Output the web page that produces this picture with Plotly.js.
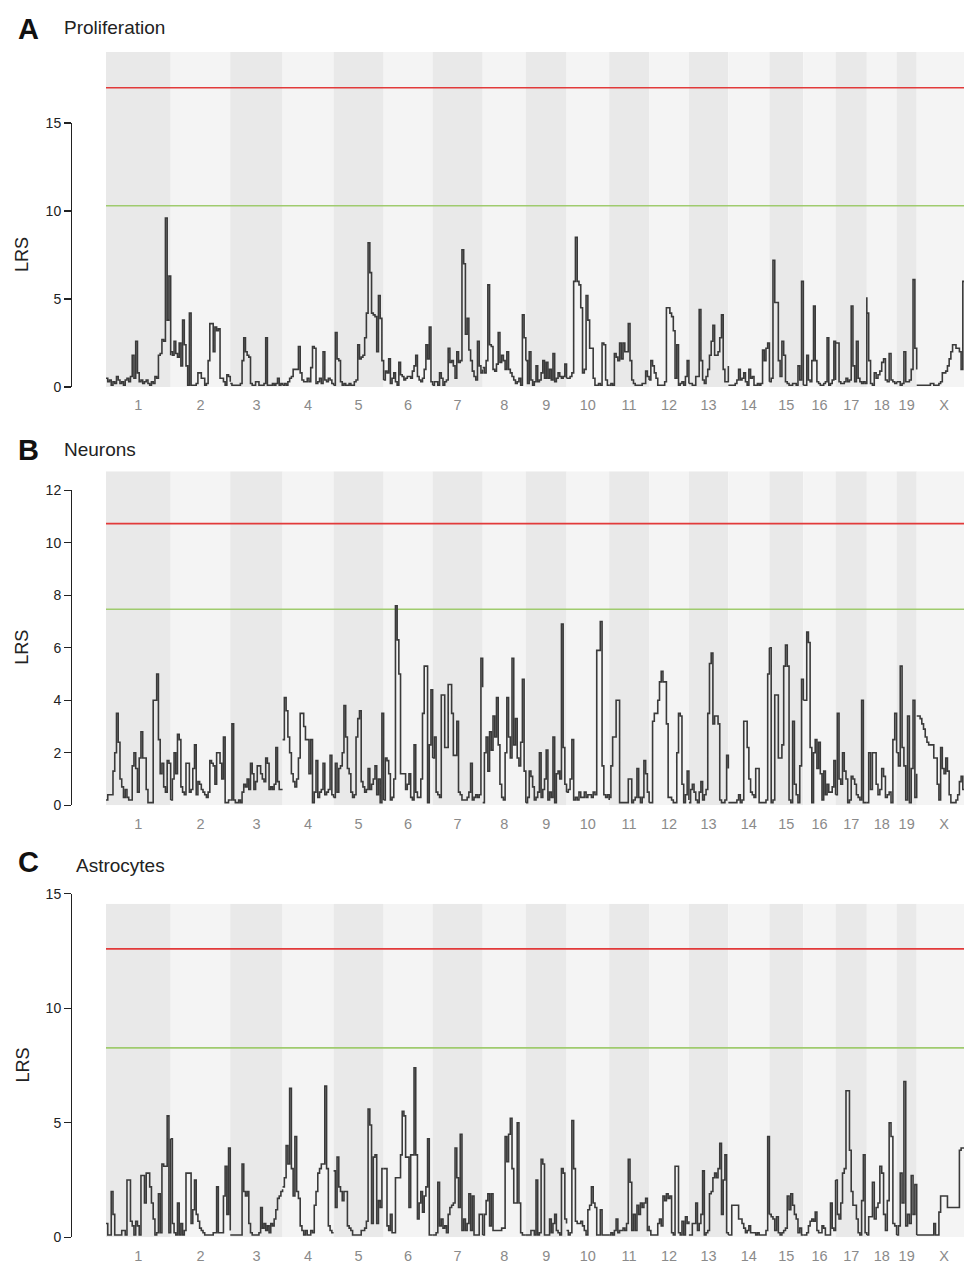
<!DOCTYPE html>
<html><head><meta charset="utf-8">
<script src="https://cdn.plot.ly/plotly-3.0.1.min.js"></script>
<style>html,body{margin:0;padding:0;background:#fff}#chart{width:964px;height:1263px}</style>
</head><body><div id="chart"></div>
<script>
// ---------------- DATA ----------------
const chromNames = ['1','2','3','4','5','6','7','8','9','10','11','12','13','14','15','16','17','18','19','X'];
const chromLengthsMb = [197.2,181.7,159.6,155.6,152.5,149.5,152.5,131.7,124.1,130.0,121.8,121.3,120.3,125.2,103.5,98.3,95.3,90.8,61.3,166.7];

const lrsProliferation = [
 [0.5,0.3,0.4,0.1,0.3,0.2,0.6,0.4,0.2,0.3,0.1,0.4,0.5,0.3,0.6,1.8,0.5,2.6,0.8,0.3,0.4,0.2,0.3,0.4,0.2,0.1,0.3,0.2,0.6,0.5,1.8,1.9,2.7,2.6,9.6,3.8,6.3,1.8],
 [2.0,1.8,2.6,1.9,1.7,2.5,1.2,3.8,2.4,1.2,0.1,4.2,0.1,0.1,0.1,0.2,0.8,0.8,0.5,0.5,0.1,0.2,1.5,3.6,3.6,2.0,3.4,3.2,3.3,0.5,0.5,0.3,0.1,0.7,0.6,0.3],
 [0.2,0.1,0.1,0.1,0.1,0.1,0.2,1.5,2.8,2.0,1.8,1.7,0.2,0.1,0.1,0.3,0.3,0.1,0.1,0.1,0.2,2.8,0.1,0.1,0.1,0.2,0.1,0.2,0.5,0.1,0.2,0.1],
 [0.1,0.2,0.1,0.3,0.5,0.6,1.0,1.0,1.0,2.3,0.8,0.4,0.3,0.3,0.5,0.3,1.1,2.3,2.2,0.2,0.3,0.5,0.2,2.0,0.4,0.3,0.5,0.4,0.2,0.1],
 [0.1,3.1,1.6,1.5,0.3,0.1,0.2,0.1,0.1,0.2,0.1,0.1,0.3,0.4,2.4,1.6,1.7,1.8,2.8,4.2,8.2,6.5,4.2,4.1,4.0,2.0,5.2,3.9,1.5,0.4],
 [0.4,0.9,0.8,1.6,0.2,0.5,0.8,0.3,0.1,1.4,0.7,0.6,0.4,0.5,0.6,0.6,0.5,0.9,1.2,1.8,0.6,0.4,0.3,0.5,1.0,2.4,1.6,3.4,0.3,0.1],
 [0.1,0.3,0.3,0.1,0.8,0.5,0.1,0.3,0.4,2.2,1.4,1.5,1.2,0.5,2.0,1.4,1.5,7.8,7.0,3.0,3.9,2.1,1.5,0.9,0.6,0.4,2.6,1.2,0.8,1.0],
 [1.1,0.8,1.5,5.8,2.4,2.3,1.0,0.9,1.3,3.1,1.4,1.8,1.5,1.0,2.0,1.0,0.8,0.6,0.4,0.2,0.3,0.5,0.1,4.1,2.8,1.5],
 [1.5,0.2,2.0,0.4,0.1,0.3,1.2,0.3,0.4,0.8,1.5,0.5,1.4,0.5,1.0,0.4,1.9,0.3,0.5,0.8,0.6,0.5,0.6,1.3,0.5],
 [0.5,0.5,0.6,0.8,6.0,8.5,6.0,5.8,4.5,0.8,1.0,5.2,3.8,2.2,2.2,0.5,0.1,0.1,0.2,0.1,2.5,2.4,0.4,0.1,0.1],
 [0.1,0.2,0.1,1.9,1.7,1.5,2.5,1.6,2.5,2.0,2.0,3.6,1.5,0.4,0.2,0.1,0.1,0.1,0.1,0.2,0.2,0.9,0.6,0.4],
 [0.4,1.5,1.2,0.8,0.5,0.1,0.1,0.1,0.1,0.3,4.5,4.5,4.2,4.0,3.2,0.5,2.4,0.1,0.2,0.3,0.1,0.6,1.5,0.2],
 [0.2,0.2,0.1,0.1,0.6,0.6,4.4,1.5,0.4,0.2,0.6,1.0,1.8,2.6,3.5,1.8,1.8,2.0,2.8,4.1,1.0,0.3,0.3,1.2],
 [0.1,0.1,0.1,0.1,0.2,0.4,1.0,0.4,0.5,0.8,0.3,0.1,1.0,0.5,0.6,0.1,0.1,0.2,0.1,0.2,2.1,1.5,2.2,2.5,0.3],
 [0.3,0.5,7.2,4.8,4.8,1.5,0.6,2.6,1.8,0.3,0.2,0.1,0.1,0.2,0.2,0.1,1.2,0.4,6.0,0.1],
 [0.1,0.1,1.8,0.4,0.3,1.5,4.6,1.5,0.3,0.2,0.1,0.1,0.2,0.3,2.8,0.1,0.2,0.4,2.6,0.4],
 [2.5,2.5,0.3,0.2,0.2,0.3,0.5,0.3,0.4,4.6,1.2,0.3,2.6,0.5,0.3,0.2,0.3,0.2,5.1],
 [4.2,1.5,0.2,0.1,0.8,0.5,0.7,0.9,1.4,1.6,0.4,0.3,1.9,0.4,0.3,0.2,0.3],
 [0.3,0.3,0.1,0.2,2.0,0.3,0.3,0.4,1.0,6.1,2.2,1.0],
 [0.1,0.1,0.1,0.1,0.1,0.1,0.1,0.1,0.2,0.2,0.1,0.1,0.1,0.2,0.3,0.8,0.8,0.9,1.2,1.6,2.0,2.4,2.4,2.2,2.2,2.0,1.0,6.0,6.0,6.0,6.0,6.0,6.0]
];

const lrsNeurons = [
 [0.2,0.4,0.4,0.4,1.3,2.0,3.5,2.4,1.0,0.7,0.3,0.6,0.3,0.2,0.2,1.5,2.0,1.4,0.5,1.8,2.8,1.8,1.8,0.6,0.1,0.1,0.1,4.0,4.0,5.0,2.5,1.2,1.6,0.7,0.5,1.7,1.6,0.2],
 [0.2,1.0,2.0,1.2,2.7,2.5,0.7,0.5,0.4,1.6,1.6,0.5,0.6,1.4,2.3,0.4,0.9,0.8,0.6,0.5,0.4,0.3,0.5,1.7,1.6,1.5,0.8,2.0,2.0,1.6,1.0,2.6,0.1,0.1,0.2,0.2],
 [0.2,3.1,0.2,0.1,0.1,0.2,0.1,0.5,0.8,0.7,1.0,0.6,1.6,1.2,0.6,0.9,1.5,1.5,1.2,1.0,0.9,1.8,1.6,0.6,0.7,0.6,0.8,2.2,0.9,0.6,0.6,0.6],
 [2.5,4.1,3.6,2.6,2.0,1.2,0.9,0.7,1.0,1.8,3.5,3.5,3.0,2.5,2.5,1.2,2.5,0.1,0.5,1.7,0.3,0.5,0.6,1.6,0.4,0.5,0.6,1.9,0.4,0.3],
 [0.3,1.6,0.5,1.4,1.5,2.0,3.8,2.6,1.4,1.2,0.5,0.3,0.4,2.6,3.3,3.6,0.9,0.7,0.5,0.6,1.4,0.6,0.8,1.0,1.5,0.4,1.0,0.1,3.5,0.2],
 [0.2,1.8,1.7,1.2,0.2,0.3,1.0,7.6,6.3,5.0,1.2,1.2,1.2,0.6,0.8,1.2,0.3,0.2,2.3,0.5,0.3,0.3,1.0,3.5,5.3,5.3,0.1,2.3,4.4,1.8],
 [1.8,2.6,0.5,0.4,0.3,4.2,4.2,2.2,2.2,4.6,4.6,3.5,1.9,1.9,3.2,0.5,0.4,0.2,0.2,0.2,0.3,0.5,1.6,0.2,0.3,0.4,0.3,0.4,5.6,4.5],
 [0.1,2.0,2.6,1.3,2.8,2.1,3.4,2.6,4.1,2.3,0.8,0.3,0.2,2.0,4.1,2.6,1.8,5.6,2.3,3.3,1.8,1.5,2.4,4.8,1.3,0.1],
 [0.1,0.3,1.3,1.1,0.7,0.2,0.3,0.5,2.0,0.3,0.6,1.0,2.1,0.2,0.5,0.3,2.6,0.1,1.2,1.3,1.0,6.9,2.2,0.8,0.5],
 [0.5,0.6,1.0,2.5,0.2,0.3,0.2,0.5,0.3,0.3,0.5,0.3,0.4,0.4,0.3,0.5,0.4,5.9,5.9,7.0,1.5,0.4,0.3,0.4,0.2],
 [0.3,1.5,2.6,2.6,4.0,4.0,0.1,0.1,0.1,0.1,0.1,1.0,1.0,0.1,0.2,0.3,1.4,0.3,0.1,0.3,1.7,1.2,0.5,0.1],
 [0.1,0.1,3.2,3.5,3.5,4.0,4.7,5.1,4.7,4.7,3.1,0.3,0.3,0.2,0.1,0.1,2.0,3.5,3.4,0.8,0.1,0.4,1.3,0.2],
 [0.1,0.6,0.8,0.5,0.2,0.1,0.5,0.9,0.2,0.4,0.6,3.5,5.4,5.8,3.1,3.4,3.4,3.1,0.2,0.1,0.1,0.2,1.9,1.4],
 [0.1,0.1,0.1,0.1,0.1,0.2,0.4,0.1,0.2,3.2,3.2,2.2,1.0,0.5,0.4,0.3,1.4,1.4,0.1,0.1,0.1,0.1,0.2,5.0,6.0],
 [6.0,0.1,0.2,4.2,4.2,1.8,1.8,2.3,5.3,6.1,5.3,0.2,0.1,3.2,0.8,0.4,0.1,1.5,4.8,4.0],
 [4.0,4.0,6.6,6.2,2.2,0.1,2.0,2.5,1.4,2.4,1.2,0.2,1.3,0.4,0.8,0.5,0.5,0.7,1.7,0.4],
 [0.4,3.5,1.0,0.8,2.0,1.3,1.0,0.1,0.2,1.1,1.0,0.8,0.4,0.3,0.2,4.0,0.1,0.1,0.1],
 [0.1,2.0,0.6,2.0,2.0,0.8,0.4,0.6,1.4,1.1,0.3,0.4,0.5,0.1,2.5,3.5,2.0],
 [2.0,1.5,5.3,2.2,1.5,0.2,3.4,0.1,1.4,4.0,0.3,1.2],
 [3.4,3.4,3.3,3.1,2.9,2.6,2.4,2.3,2.3,2.3,1.8,1.8,0.8,0.2,2.2,1.4,1.2,1.8,1.3,0.4,0.1,0.1,0.1,0.2,0.4,0.9,1.1,0.6,0.6,0.6,0.6,0.6,0.6]
];

const lrsAstrocytes = [
 [0.6,0.1,0.1,2.0,1.0,0.1,0.1,0.1,0.1,0.3,0.3,0.1,2.5,2.5,0.7,0.5,0.1,0.7,0.5,0.1,2.7,2.7,1.5,2.8,2.8,2.2,1.5,0.8,0.1,0.2,1.9,0.2,3.2,3.1,3.1,5.3,0.2,4.3],
 [4.3,0.6,0.2,0.1,1.5,0.1,0.6,0.1,0.3,2.8,2.8,2.8,0.6,1.2,2.5,1.0,0.7,0.4,0.3,0.2,0.1,0.1,0.1,0.1,0.1,0.2,0.2,2.2,0.2,0.2,0.2,1.8,3.1,1.0,3.9,0.3],
 [0.1,0.1,0.1,0.1,0.1,0.1,0.1,3.2,2.0,1.8,2.0,0.6,0.2,0.1,0.1,0.1,0.1,0.2,1.3,0.4,0.6,0.3,0.5,0.2,0.6,0.5,0.8,1.2,1.7,1.8,2.0,2.1],
 [2.2,2.6,4.0,3.2,6.5,3.0,1.8,4.4,2.0,1.7,0.5,0.3,0.1,0.3,0.1,0.1,0.3,0.2,1.4,2.0,2.8,3.0,3.2,3.2,6.6,3.0,0.5,0.3,0.2,0.2],
 [2.9,1.3,3.5,2.2,2.0,1.6,2.0,2.0,0.5,0.4,0.3,0.1,0.1,0.1,0.1,0.1,0.3,0.3,0.4,0.7,5.6,4.9,0.6,3.5,3.6,0.6,1.6,1.3,3.0,3.0],
 [3.0,3.0,0.5,0.3,1.0,0.2,0.2,2.6,2.6,2.6,3.6,5.5,5.3,3.5,3.5,1.3,3.6,3.6,7.4,3.6,0.8,1.5,2.0,1.1,1.8,2.2,4.3,0.1,0.1,0.1],
 [0.1,0.1,0.2,2.4,0.5,0.8,0.4,0.5,0.2,1.0,1.3,1.4,1.5,3.9,2.6,1.3,4.5,0.3,0.8,0.3,0.6,1.9,0.3,1.8,0.1,0.1,0.1,1.0,1.0,0.1],
 [0.1,1.0,1.6,1.9,0.5,1.9,0.3,0.3,0.3,0.3,0.3,0.4,0.4,4.4,3.3,4.5,5.2,3.0,1.5,1.5,5.0,1.5,0.2,0.1,0.1,0.1],
 [0.1,0.1,0.1,0.3,0.3,0.1,2.5,0.1,0.2,3.4,3.2,0.1,0.1,0.1,0.8,0.2,0.6,1.0,0.3,0.2,0.1,3.0,2.8,0.8,0.6],
 [0.3,0.1,0.2,5.1,3.0,0.7,0.6,0.6,0.7,0.5,0.3,0.1,1.2,1.4,2.2,1.5,1.3,0.1,0.1,1.2,0.1,0.1,0.1,0.1,0.1],
 [0.1,0.2,0.1,0.3,0.8,0.2,0.3,0.3,0.4,0.3,0.6,3.4,2.4,0.3,1.0,0.3,1.4,1.0,1.5,1.3,1.5,1.7,0.3,0.5],
 [0.3,0.1,0.1,0.1,0.1,0.6,0.8,0.5,1.8,1.6,1.9,1.7,1.8,0.2,0.1,3.1,3.1,0.2,0.1,0.7,0.1,0.9,0.6,0.7],
 [0.1,0.1,0.6,0.6,1.5,0.3,0.6,1.0,2.9,0.1,0.2,0.3,1.9,2.0,2.6,2.8,2.6,3.0,4.1,1.0,2.5,3.6,0.2,0.1],
 [0.1,0.1,1.4,1.4,1.4,1.4,0.8,0.8,0.6,0.4,0.2,0.3,0.5,0.2,0.2,0.2,0.1,0.2,0.1,0.1,0.1,0.1,0.3,4.4,1.0],
 [1.0,0.9,0.8,0.3,0.9,0.2,0.1,0.2,0.3,0.4,1.8,1.2,1.9,1.4,1.0,0.8,0.2,0.4,0.1,0.1],
 [0.1,0.1,0.2,0.5,0.7,0.8,0.7,1.1,0.3,0.2,0.2,0.5,0.4,0.1,0.1,0.1,1.5,0.4,0.3,2.5],
 [2.5,1.0,0.8,1.5,2.8,3.0,6.4,6.4,3.8,2.0,1.4,1.4,0.8,0.2,0.1,1.6,3.6,0.2,0.1],
 [0.1,0.9,0.9,2.4,0.8,1.3,1.5,3.1,2.8,1.0,0.3,1.6,5.0,4.4,0.6,0.5,0.1],
 [0.1,0.5,2.8,1.5,6.8,0.5,1.0,0.6,2.7,1.0,2.3,0.1],
 [0.1,0.1,0.1,0.1,0.1,0.1,0.1,0.1,0.1,0.1,0.6,0.1,0.1,1.1,1.8,1.8,1.8,1.8,1.3,1.3,1.3,1.3,1.3,1.3,1.3,3.8,3.9,3.9,3.9,3.9,3.9,3.9,3.9]
];

const panelLetters = ['A','B','C'];
const panelTitles = ['Proliferation','Neurons','Astrocytes'];
const significantLRS = [17.0, 10.73, 12.59];
const suggestiveLRS = [10.3, 7.47, 8.27];
const yTickValues = [[0,5,10,15],[0,2,4,6,8,10,12],[0,5,10,15]];

// ---------------- LAYOUT GEOMETRY (pixels) ----------------
const W = 964, H = 1263;
const axisLineX = 71, plotLeftX = 106, chr19EndX = 916.7;
const geo = [
  {zero:387.0,  bgTop:52.0,  tickTop:123.0, letterY:29,  titleX:63, titleY:27.4, lrsY:255},
  {zero:805.3,  bgTop:471.3, tickTop:490.3, letterY:450, titleX:63, titleY:449.4, lrsY:647.8},
  {zero:1237.3, bgTop:903.7, tickTop:893.7, letterY:862, titleX:75, titleY:865, lrsY:1065.5}
];
const series = [lrsProliferation, lrsNeurons, lrsAstrocytes];

const plotW = W - axisLineX;
const px2px = x => (x - axisLineX) / plotW;   // page x -> paper x
const py2py = y => 1 - y / H;                 // page y -> paper y

const starts = [];
let acc = 0;
chromLengthsMb.forEach(l => { starts.push(acc); acc += l; });
const sum19 = starts[19];
const xEnd = sum19 * (W - plotLeftX) / (chr19EndX - plotLeftX);
const mids = chromLengthsMb.map((l, i) => starts[i] + l / 2);

const FONT = 'Liberation Sans, Arial, Helvetica, sans-serif';
const traces = [], shapes = [], annotations = [];
const layout = {
  width: W, height: H,
  margin: {l: axisLineX, r: 0, t: 0, b: 0, pad: 0},
  paper_bgcolor: '#ffffff', plot_bgcolor: 'rgba(0,0,0,0)',
  showlegend: false, font: {family: FONT, color: '#222'},
  hovermode: false
};

geo.forEach((g, k) => {
  const sfx = k === 0 ? '' : String(k + 1);
  const xName = 'x' + sfx, yName = 'y' + sfx, yDisp = 'y' + (k + 4);
  const tickMax = yTickValues[k][yTickValues[k].length - 1];
  const pxPerUnit = (g.zero - g.tickTop) / tickMax;
  const dataTop = (g.zero - g.bgTop) / pxPerUnit;

  const xs = [], ys = [];
  series[k].forEach((vals, c) => {
    const n = vals.length;
    vals.forEach((v, i) => {
      xs.push(starts[c] + chromLengthsMb[c] * i / (n - 1));
      ys.push(v);
    });
    xs.push(null); ys.push(null);
  });
  traces.push({x: xs, y: ys, xaxis: xName, yaxis: yName, type: 'scatter', mode: 'lines',
    line: {shape: 'hv', color: '#3a3a3a', width: 1.6}, connectgaps: false, hoverinfo: 'skip'});
  traces.push({x: [0], y: [0], xaxis: xName, yaxis: yDisp, type: 'scatter', mode: 'markers',
    marker: {opacity: 0, size: 1}, hoverinfo: 'skip'});

  layout['xaxis' + sfx] = {
    domain: [px2px(plotLeftX), 1], range: [0, xEnd], anchor: yName,
    showgrid: false, zeroline: false, showline: false, fixedrange: true,
    tickmode: 'array', tickvals: mids, ticktext: chromNames,
    ticks: 'outside', ticklen: 5, tickcolor: 'rgba(0,0,0,0)',
    tickfont: {family: FONT, size: 14.5, color: '#8a8a8a'}, automargin: false
  };
  layout['yaxis' + sfx] = {
    domain: [py2py(g.zero), py2py(g.bgTop)], range: [0, dataTop], anchor: xName,
    visible: false, fixedrange: true
  };
  layout['yaxis' + (k + 4)] = {
    domain: [py2py(g.zero), py2py(g.tickTop)], range: [0, tickMax], anchor: 'free', position: 0,
    showline: true, linecolor: '#222', linewidth: 1.4, ticks: 'outside', ticklen: 7,
    tickwidth: 1.3, tickcolor: '#222', tickmode: 'array', tickvals: yTickValues[k],
    tickfont: {family: FONT, size: 14, color: '#222'}, showgrid: false, zeroline: false,
    fixedrange: true, automargin: false
  };

  chromLengthsMb.forEach((l, c) => {
    shapes.push({type: 'rect', xref: xName, yref: yName, layer: 'below',
      x0: starts[c], x1: starts[c] + l, y0: 0, y1: dataTop,
      fillcolor: c % 2 === 0 ? '#e9e9e9' : '#f4f4f4', line: {width: 0}});
  });
  shapes.push({type: 'line', xref: xName, yref: yName, layer: 'below',
    x0: 0, x1: xEnd, y0: significantLRS[k], y1: significantLRS[k], line: {color: '#e23a3a', width: 1.6}});
  shapes.push({type: 'line', xref: xName, yref: yName, layer: 'below',
    x0: 0, x1: xEnd, y0: suggestiveLRS[k], y1: suggestiveLRS[k], line: {color: '#9fcb6e', width: 1.6}});

  annotations.push({xref: 'paper', yref: 'paper', x: px2px(17), y: py2py(g.letterY),
    xanchor: 'left', yanchor: 'middle', showarrow: false, text: '<b>' + panelLetters[k] + '</b>',
    font: {family: FONT, size: 29, color: '#111'}, borderpad: 0});
  annotations.push({xref: 'paper', yref: 'paper', x: px2px(g.titleX), y: py2py(g.titleY),
    xanchor: 'left', yanchor: 'middle', showarrow: false, text: panelTitles[k],
    font: {family: FONT, size: 19, color: '#222'}, borderpad: 0});
  annotations.push({xref: 'paper', yref: 'paper', x: px2px(22), y: py2py(g.lrsY),
    xanchor: 'center', yanchor: 'middle', showarrow: false, text: 'LRS', textangle: -90,
    font: {family: FONT, size: 18, color: '#222'}, borderpad: 0});
});

layout.shapes = shapes;
layout.annotations = annotations;
Plotly.newPlot('chart', traces, layout, {staticPlot: true, displayModeBar: false});
</script>
</body></html>
